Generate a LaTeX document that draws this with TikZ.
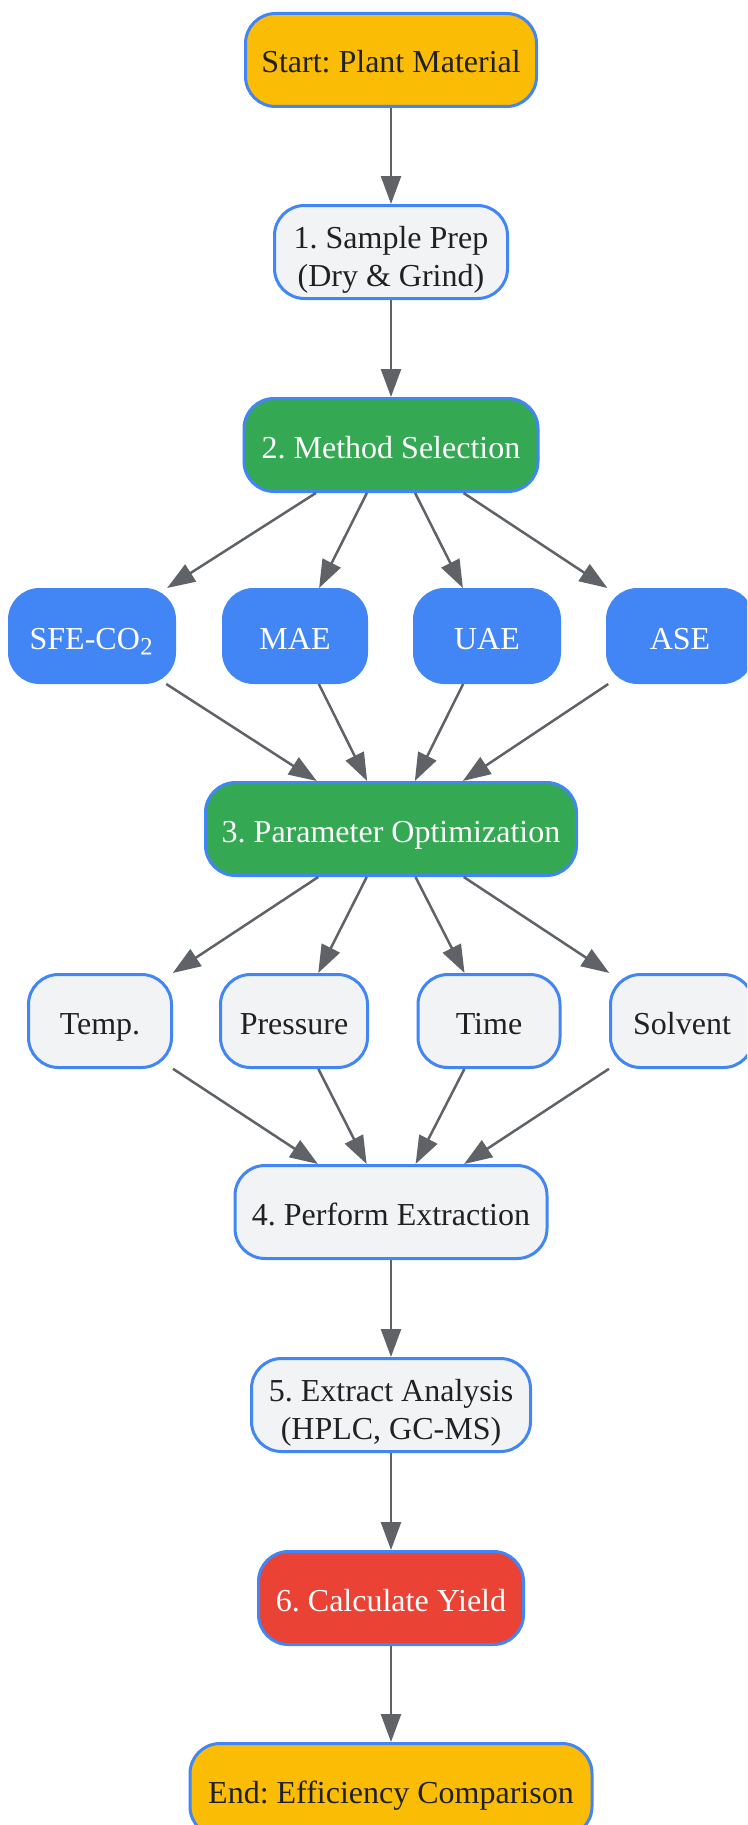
\documentclass[tikz,border=0pt]{standalone}
\usepackage{fontspec}
\setmainfont{Liberation Serif}
\usetikzlibrary{arrows.meta}
\definecolor{gyellow}{HTML}{FBBC05}
\definecolor{ggray}{HTML}{F1F3F4}
\definecolor{gblue}{HTML}{4285F4}
\definecolor{ggreen}{HTML}{34A853}
\definecolor{gred}{HTML}{EA4335}
\definecolor{gtext}{HTML}{202124}
\definecolor{garrow}{HTML}{5F6368}
\frenchspacing
\newcommand{\twolines}[2]{\begin{tabular}[t]{@{}c@{}}#1\\#2\end{tabular}}
\begin{document}
\begin{tikzpicture}[x=1pt,y=-1pt,
  box/.style={draw=gblue, line width=3pt, rounded corners=30pt, inner sep=0pt,
    minimum height=93pt, font=\fontsize{32}{38}\selectfont\frenchspacing, text=gtext},
  oneline/.style={text height=26pt, text depth=0pt},
  twoline/.style={text height=20pt, text depth=28pt},
  yellowbox/.style={box, fill=gyellow},
  graybox/.style={box, fill=ggray},
  bluebox/.style={box, fill=gblue, text=white},
  greenbox/.style={box, fill=ggreen, text=white},
  redbox/.style={box, fill=gred, text=white},
  arr/.style={draw=garrow, line width=2.5pt, -{Triangle[length=28pt,width=20pt]}}]
\useasboundingbox (0,0) rectangle (747,1825);
\clip (0,0) rectangle (747,1825);
\node[yellowbox, oneline, minimum width=291pt] (start) at (391,60) {Start: Plant Material};
\node[graybox, twoline, minimum width=233pt] (prep) at (391,252) {\twolines{1. Sample Prep}{(Dry \& Grind)}};
\node[greenbox, oneline, minimum width=294pt] (method) at (391,445) {2. Method Selection};
\node[bluebox, oneline, minimum width=165pt] (sfe) at (92,636) {SFE-CO\raisebox{3pt}{\scalebox{1.3}{₂}}};
\node[bluebox, oneline, minimum width=143pt] (mae) at (295,636) {MAE};
\node[bluebox, oneline, minimum width=145pt] (uae) at (487,636) {UAE};
\node[bluebox, oneline, minimum width=145pt] (ase) at (680,636) {ASE};
\node[greenbox, oneline, minimum width=371pt] (param) at (391,829) {3. Parameter Optimization};
\node[graybox, oneline, minimum width=143pt] (temp) at (100,1021) {Temp.};
\node[graybox, oneline, minimum width=147pt] (press) at (294,1021) {Pressure};
\node[graybox, oneline, minimum width=142pt] (time) at (489,1021) {Time};
\node[graybox, oneline, minimum width=143pt] (solv) at (682,1021) {Solvent};
\node[graybox, oneline, minimum width=312pt] (perform) at (391,1212) {4. Perform Extraction};
\node[graybox, twoline, minimum width=279pt] (analysis) at (391,1405) {\twolines{5. Extract Analysis}{(HPLC, GC-MS)}};
\node[redbox, oneline, minimum width=265pt] (yield) at (391,1598) {6. Calculate Yield};
\node[yellowbox, oneline, minimum width=402pt] (end) at (391,1790) {End: Efficiency Comparison};
\draw[arr] (start) -- (prep);
\draw[arr] (prep) -- (method);
\foreach \m in {sfe,mae,uae,ase} {
  \draw[arr] (method) -- (\m);
  \draw[arr] (\m) -- (param);
}
\foreach \p in {temp,press,time,solv} {
  \draw[arr] (param) -- (\p);
  \draw[arr] (\p) -- (perform);
}
\draw[arr] (perform) -- (analysis);
\draw[arr] (analysis) -- (yield);
\draw[arr] (yield) -- (end);
\end{tikzpicture}
\end{document}
